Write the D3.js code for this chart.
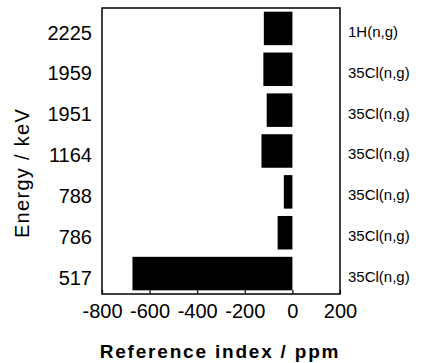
<!DOCTYPE html>
<html>
<head>
<meta charset="utf-8">
<script src="https://cdn.jsdelivr.net/npm/d3@7"></script>
<style>
  body { margin: 0; background: #fff; }
  svg text { font-family: "Liberation Sans", Arial, sans-serif; fill: #000; }
</style>
</head>
<body>
<div id="chart"></div>
<script>
// data
const energies = ["2225", "1959", "1951", "1164", "788", "786", "517"];
const refIndex = [-120, -122, -108, -130, -36, -62, -672];
const reactions = ["1H(n,g)", "35Cl(n,g)", "35Cl(n,g)", "35Cl(n,g)", "35Cl(n,g)", "35Cl(n,g)", "35Cl(n,g)"];
const xTicks = [-800, -600, -400, -200, 0, 200];

const data = energies.map((e, i) => ({ energy: e, value: refIndex[i], reaction: reactions[i] }));

const W = 421, H = 363;
const margin = { top: 8, right: 81, bottom: 69, left: 102 };
const width = W - margin.left - margin.right;
const height = H - margin.top - margin.bottom;

const svg = d3.select("#chart")
  .append("svg")
  .attr("width", W)
  .attr("height", H);

const g = svg.append("g")
  .attr("transform", `translate(${margin.left},${margin.top})`);

// === Scales ===
const x = d3.scaleLinear().domain([-800, 200]).range([0, width]);
const y = d3.scaleBand().domain(energies).range([0, height]).paddingInner(0.18).paddingOuter(0.09);

// === Bars ===
g.selectAll("rect.bar")
  .data(data)
  .join("rect")
  .attr("class", "bar")
  .attr("x", d => x(Math.min(0, d.value)))
  .attr("y", d => y(d.energy))
  .attr("width", d => Math.abs(x(d.value) - x(0)))
  .attr("height", y.bandwidth())
  .attr("fill", "#000");

// === Frame ===
g.append("rect")
  .attr("width", width)
  .attr("height", height)
  .attr("fill", "none")
  .attr("stroke", "#000")
  .attr("stroke-width", 1.5);

// === X axis ===
const xAxis = g.append("g")
  .attr("transform", `translate(0,${height})`)
  .call(d3.axisBottom(x).tickValues(xTicks).tickSizeInner(-4).tickSizeOuter(0).tickPadding(10));
xAxis.select(".domain").remove();
xAxis.selectAll("line").attr("stroke", "#000").attr("stroke-width", 1.2);
xAxis.selectAll("text")
  .style("font-size", "20px")
  .attr("dy", "0.71em")
  .text(d => d < 0 ? "-" + Math.abs(d) : d);

// === Y axis labels ===
g.selectAll("text.ylab")
  .data(data)
  .join("text")
  .attr("class", "ylab")
  .attr("x", -10)
  .attr("y", d => y(d.energy) + y.bandwidth() / 2 + 4)
  .attr("dy", "0.36em")
  .attr("text-anchor", "end")
  .style("font-size", "20px")
  .text(d => d.energy);

// === Reaction labels (right) ===
g.selectAll("text.rlab")
  .data(data)
  .join("text")
  .attr("class", "rlab")
  .attr("x", width + 8)
  .attr("y", d => y(d.energy) + y.bandwidth() / 2 + 3)
  .attr("dy", "0.36em")
  .style("font-size", "15px")
  .text(d => d.reaction);

// === Titles ===
svg.append("text")
  .attr("x", 220)
  .attr("y", 358)
  .attr("text-anchor", "middle")
  .style("font-size", "19px")
  .style("font-weight", "bold")
  .style("letter-spacing", "1.8px")
  .text("Reference index / ppm");

svg.append("text")
  .attr("transform", "translate(29,173) rotate(-90)")
  .attr("text-anchor", "middle")
  .style("font-size", "20px")
  .style("letter-spacing", "1.3px")
  .text("Energy / keV");
</script>
</body>
</html>
